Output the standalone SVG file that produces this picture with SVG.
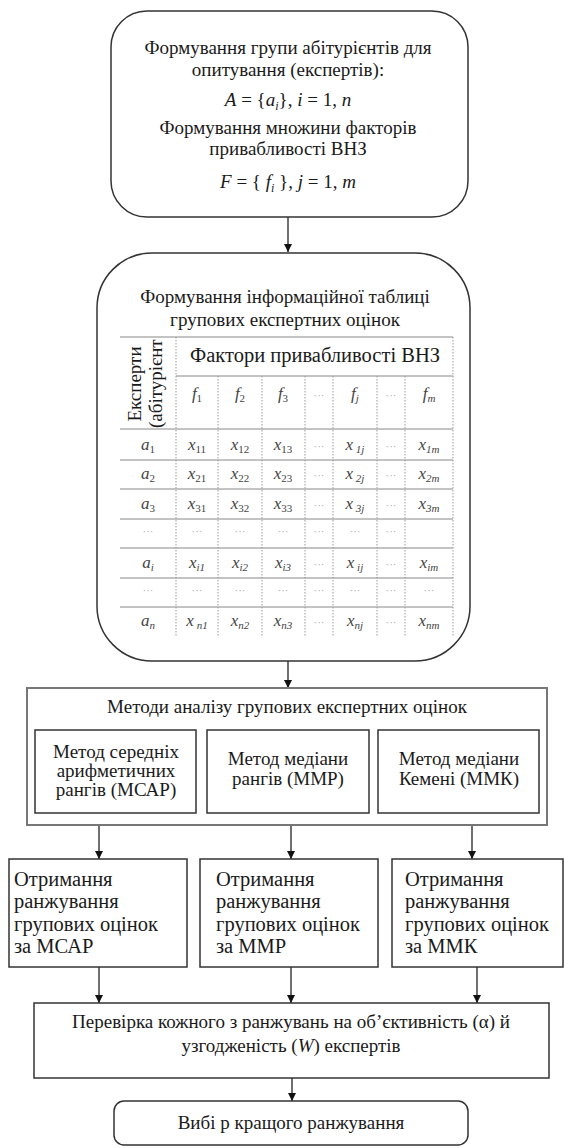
<svg xmlns="http://www.w3.org/2000/svg" width="564" height="1148" viewBox="0 0 564 1148">
<style>
.t{font-family:"Liberation Serif","Times New Roman",serif;font-size:19px;fill:#1a1a1a;text-anchor:middle}
.tl{font-family:"Liberation Serif","Times New Roman",serif;font-size:20.5px;fill:#1a1a1a;text-anchor:start}
.i{font-style:italic}
.c{font-family:"Liberation Serif","Times New Roman",serif;font-size:17px;font-style:italic;fill:#444;text-anchor:middle}
.d{font-family:"Liberation Serif",serif;font-size:11px;fill:#aaa;text-anchor:middle}
.box{fill:#fff;stroke:#333;stroke-width:1.5}
.outer{fill:#fff;stroke:#777;stroke-width:2}
.hl{stroke:#888;stroke-width:1}
.vl{stroke:#999;stroke-width:1;stroke-dasharray:1.5 1.5}
.conn line{stroke:#222;stroke-width:1.3}
</style>
<defs>
<marker id="arr" viewBox="0 0 10 10" refX="10" refY="5" markerWidth="8" markerHeight="8" markerUnits="userSpaceOnUse" orient="auto">
<path d="M0,0 L10,5 L0,10 z" fill="#111"/>
</marker>
</defs>

<g id="connectors" class="conn">
<line x1="288" y1="217" x2="288" y2="252" marker-end="url(#arr)"/>
<line x1="288" y1="661" x2="288" y2="688" marker-end="url(#arr)"/>
<line x1="99" y1="813" x2="99" y2="859" marker-end="url(#arr)"/>
<line x1="291" y1="813" x2="291" y2="859" marker-end="url(#arr)"/>
<line x1="472" y1="813" x2="472" y2="859" marker-end="url(#arr)"/>
<line x1="99" y1="967" x2="99" y2="1003" marker-end="url(#arr)"/>
<line x1="291" y1="967" x2="291" y2="1003" marker-end="url(#arr)"/>
<line x1="477" y1="967" x2="477" y2="1003" marker-end="url(#arr)"/>
<line x1="292" y1="1078" x2="292" y2="1101" marker-end="url(#arr)"/>
</g>

<g id="node-formation">
<rect class="box" x="111" y="11" width="357" height="206" rx="36" ry="36"/>
<text class="t" x="288" y="54">Формування групи абітурієнтів для</text>
<text class="t" x="288" y="76">опитування (експертів):</text>
<text class="t" x="288" y="106"><tspan class="i">A</tspan> = {<tspan class="i">a</tspan><tspan class="i" font-size="12" dy="4">i</tspan><tspan dy="-4">}, </tspan><tspan class="i">i</tspan> = 1, <tspan class="i">n</tspan></text>
<text class="t" x="288" y="134">Формування множини факторів</text>
<text class="t" x="288" y="155">привабливості ВНЗ</text>
<text class="t" x="288" y="188"><tspan class="i">F</tspan> = { <tspan class="i">f</tspan><tspan class="i" font-size="12" dy="4">i</tspan><tspan dy="-4"> }, </tspan><tspan class="i">j</tspan> = 1, <tspan class="i">m</tspan></text>
</g>

<g id="node-table">
<rect class="box" x="97" y="253" width="373" height="408" rx="55" ry="55"/>
<text class="t" x="285" y="303">Формування інформаційної таблиці</text>
<text class="t" x="285" y="326">групових експертних оцінок</text>
<line class="hl" x1="120" y1="337" x2="453" y2="337"/>
<line class="hl" x1="176" y1="376" x2="453" y2="376"/>
<line class="hl" x1="120" y1="429" x2="453" y2="429"/>
<line class="hl" x1="120" y1="460" x2="453" y2="460"/>
<line class="hl" x1="120" y1="489" x2="453" y2="489"/>
<line class="hl" x1="120" y1="519" x2="453" y2="519"/>
<line class="hl" x1="120" y1="548" x2="453" y2="548"/>
<line class="hl" x1="120" y1="578" x2="453" y2="578"/>
<line class="hl" x1="120" y1="607" x2="453" y2="607"/>
<line class="vl" x1="176" y1="337" x2="176" y2="636"/>
<line class="vl" x1="218" y1="376" x2="218" y2="636"/>
<line class="vl" x1="262" y1="376" x2="262" y2="636"/>
<line class="vl" x1="305" y1="376" x2="305" y2="636"/>
<line class="vl" x1="333" y1="376" x2="333" y2="636"/>
<line class="vl" x1="377" y1="376" x2="377" y2="636"/>
<line class="vl" x1="405" y1="376" x2="405" y2="636"/>
<line class="vl" x1="453" y1="337" x2="453" y2="636"/>
<text class="t" transform="translate(141,384) rotate(-90)" x="0" y="0" fill="#333">Експерти</text>
<text class="t" transform="translate(162,428) rotate(-90)" x="0" y="0" fill="#333" text-anchor="start" style="text-anchor:start">(абітурієнт</text>
<text class="t" x="315" y="362" fill="#333" font-size="20.5" style="font-size:20.5px">Фактори привабливості ВНЗ</text>
<text class="c" x="197" y="399">f<tspan font-size="11" font-style="normal" dy="3">1</tspan></text>
<text class="c" x="240" y="399">f<tspan font-size="11" font-style="normal" dy="3">2</tspan></text>
<text class="c" x="283" y="399">f<tspan font-size="11" font-style="normal" dy="3">3</tspan></text>
<text class="d" x="319" y="399">···</text>
<text class="c" x="355" y="399">f<tspan font-size="11" dy="3">j</tspan></text>
<text class="d" x="391" y="399">···</text>
<text class="c" x="429" y="399">f<tspan font-size="11" dy="3">m</tspan></text>

<text class="c" x="148" y="450">a<tspan font-size="11" font-style="normal" dy="3">1</tspan></text>
<text class="c" x="197" y="450">x<tspan font-size="11" font-style="normal" dy="3">11</tspan></text>
<text class="c" x="240" y="450">x<tspan font-size="11" font-style="normal" dy="3">12</tspan></text>
<text class="c" x="283" y="450">x<tspan font-size="11" font-style="normal" dy="3">13</tspan></text>
<text class="d" x="319" y="450">···</text>
<text class="c" x="355" y="450">x<tspan font-size="11" dy="3"> 1j</tspan></text>
<text class="d" x="391" y="450">···</text>
<text class="c" x="429" y="450">x<tspan font-size="11" dy="3">1m</tspan></text>

<text class="c" x="148" y="479">a<tspan font-size="11" font-style="normal" dy="3">2</tspan></text>
<text class="c" x="197" y="479">x<tspan font-size="11" font-style="normal" dy="3">21</tspan></text>
<text class="c" x="240" y="479">x<tspan font-size="11" font-style="normal" dy="3">22</tspan></text>
<text class="c" x="283" y="479">x<tspan font-size="11" font-style="normal" dy="3">23</tspan></text>
<text class="d" x="319" y="479">···</text>
<text class="c" x="355" y="479">x<tspan font-size="11" dy="3"> 2j</tspan></text>
<text class="d" x="391" y="479">···</text>
<text class="c" x="429" y="479">x<tspan font-size="11" dy="3">2m</tspan></text>

<text class="c" x="148" y="509">a<tspan font-size="11" font-style="normal" dy="3">3</tspan></text>
<text class="c" x="197" y="509">x<tspan font-size="11" font-style="normal" dy="3">31</tspan></text>
<text class="c" x="240" y="509">x<tspan font-size="11" font-style="normal" dy="3">32</tspan></text>
<text class="c" x="283" y="509">x<tspan font-size="11" font-style="normal" dy="3">33</tspan></text>
<text class="d" x="319" y="509">···</text>
<text class="c" x="355" y="509">x<tspan font-size="11" dy="3"> 3j</tspan></text>
<text class="d" x="391" y="509">···</text>
<text class="c" x="429" y="509">x<tspan font-size="11" dy="3">3m</tspan></text>

<text class="d" x="148" y="535">···</text>
<text class="d" x="197" y="535">···</text>
<text class="d" x="240" y="535">···</text>
<text class="d" x="283" y="535">···</text>
<text class="d" x="319" y="535">···</text>
<text class="d" x="355" y="535">···</text>
<text class="d" x="391" y="535">···</text>

<text class="c" x="148" y="568">a<tspan font-size="11" dy="3">i</tspan></text>
<text class="c" x="197" y="568">x<tspan font-size="11" dy="3">i1</tspan></text>
<text class="c" x="240" y="568">x<tspan font-size="11" dy="3">i2</tspan></text>
<text class="c" x="283" y="568">x<tspan font-size="11" dy="3">i3</tspan></text>
<text class="d" x="319" y="568">···</text>
<text class="c" x="355" y="568">x<tspan font-size="11" dy="3"> ij</tspan></text>
<text class="d" x="391" y="568">···</text>
<text class="c" x="429" y="568">x<tspan font-size="11" dy="3">im</tspan></text>

<text class="d" x="148" y="594">···</text>
<text class="d" x="197" y="594">···</text>
<text class="d" x="240" y="594">···</text>
<text class="d" x="283" y="594">···</text>
<text class="d" x="319" y="594">···</text>
<text class="d" x="355" y="594">···</text>
<text class="d" x="391" y="594">···</text>
<text class="d" x="429" y="594">···</text>

<text class="c" x="148" y="626">a<tspan font-size="11" dy="3">n</tspan></text>
<text class="c" x="197" y="626">x<tspan font-size="11" dy="3"> n1</tspan></text>
<text class="c" x="240" y="626">x<tspan font-size="11" dy="3">n2</tspan></text>
<text class="c" x="283" y="626">x<tspan font-size="11" dy="3">n3</tspan></text>
<text class="d" x="319" y="626">···</text>
<text class="c" x="355" y="626">x<tspan font-size="11" dy="3">nj</tspan></text>
<text class="d" x="391" y="626">···</text>
<text class="c" x="429" y="626">x<tspan font-size="11" dy="3">nm</tspan></text>
</g>

<g id="node-methods">
<rect class="outer" x="27" y="688" width="520" height="137"/>
<text class="t" x="287" y="713">Методи аналізу групових експертних оцінок</text>
</g>

<g id="node-mcar">
<rect class="box" x="35" y="730" width="161" height="83"/>
<text class="t" x="116" y="758">Метод середніх</text>
<text class="t" x="116" y="777">арифметичних</text>
<text class="t" x="116" y="796">рангів (МСАР)</text>
</g>

<g id="node-mmr">
<rect class="box" x="207" y="730" width="162" height="83"/>
<text class="t" x="288" y="765">Метод медіани</text>
<text class="t" x="288" y="785">рангів (ММР)</text>
</g>

<g id="node-mmk">
<rect class="box" x="378" y="730" width="161" height="83"/>
<text class="t" x="459" y="765">Метод медіани</text>
<text class="t" x="459" y="785">Кемені (ММК)</text>
</g>

<g id="node-res-mcar">
<rect class="box" x="9" y="859" width="178" height="108"/>
<text class="tl" x="14" y="886">Отримання</text>
<text class="tl" x="14" y="908">ранжування</text>
<text class="tl" x="14" y="931">групових оцінок</text>
<text class="tl" x="14" y="953">за МСАР</text>
</g>

<g id="node-res-mmr">
<rect class="box" x="200" y="859" width="178" height="108"/>
<text class="tl" x="216" y="886">Отримання</text>
<text class="tl" x="216" y="908">ранжування</text>
<text class="tl" x="216" y="931">групових оцінок</text>
<text class="tl" x="216" y="953">за ММР</text>
</g>

<g id="node-res-mmk">
<rect class="box" x="392" y="859" width="171" height="108"/>
<text class="tl" x="405" y="886">Отримання</text>
<text class="tl" x="405" y="908">ранжування</text>
<text class="tl" x="405" y="931">групових оцінок</text>
<text class="tl" x="405" y="953">за ММК</text>
</g>

<g id="node-check">
<rect class="box" x="34" y="1003" width="515" height="75"/>
<text class="t" x="291" y="1028">Перевірка кожного з ранжувань на об’єктивність (α) й</text>
<text class="t" x="291" y="1052">узгодженість (<tspan class="i">W</tspan>) експертів</text>
</g>

<g id="node-choice">
<rect class="box" x="114" y="1101" width="354" height="44" rx="10" ry="10"/>
<text class="t" x="291" y="1129">Вибі р кращого ранжування</text>
</g>
</svg>
